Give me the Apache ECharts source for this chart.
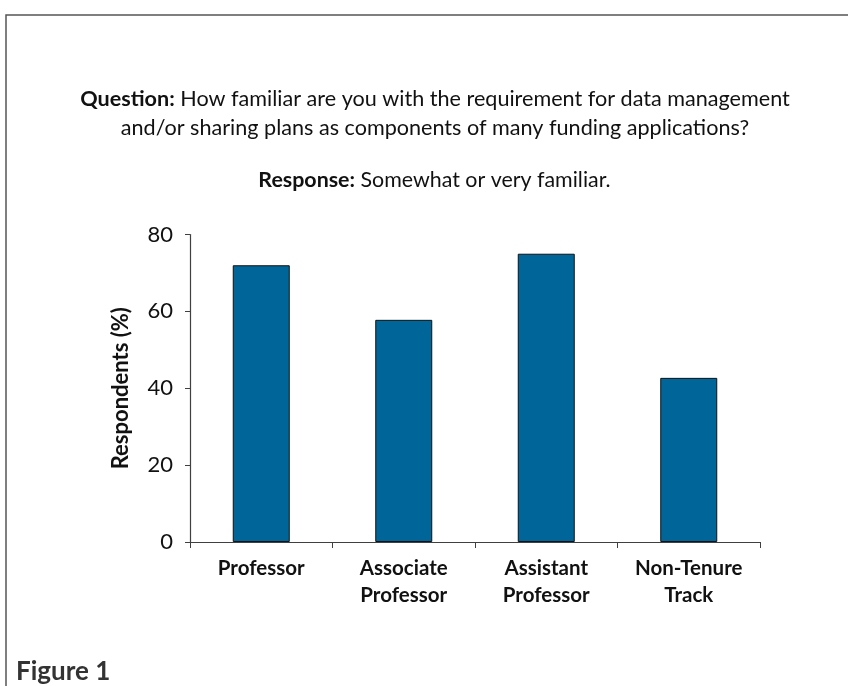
<!DOCTYPE html>
<html>
<head>
<meta charset="utf-8">
<script src="https://cdn.jsdelivr.net/npm/echarts@6/dist/echarts.min.js"></script>
<style>
  html, body { margin: 0; padding: 0; background: #fff; }
  #chart { width: 848px; height: 686px; }
</style>
</head>
<body>
<div id="chart"></div>
<script>
const categories = ['Professor', 'Associate\nProfessor', 'Assistant\nProfessor', 'Non-Tenure\nTrack']
const familiarValues = [72, 57.8, 75, 42.7]
const yTicks = [0, 20, 40, 60, 80]

const font = 'Lato, "Liberation Sans", sans-serif'
const chart = echarts.init(document.getElementById('chart'))

chart.setOption({
    backgroundColor: '#fff',
    animation: false,
    textStyle: { fontFamily: font },
    title: [
        {
            text: '{b|Question:} How familiar are you with the requirement for data management\nand/or sharing plans as components of many funding applications?',
            left: 430,
            top: 80,
            textAlign: 'center',
            textStyle: {
                fontFamily: font,
                fontSize: 21.6,
                fontWeight: 'normal',
                color: '#111',
                lineHeight: 29,
                align: 'center',
                rich: {
                    b: { fontFamily: font, fontSize: 21.6, fontWeight: 'bold', color: '#111' }
                }
            }
        },
        {
            text: '{b|Response:} Somewhat or very familiar.',
            left: 429.5,
            top: 165,
            textAlign: 'center',
            textStyle: {
                fontFamily: font,
                fontSize: 21.4,
                fontWeight: 'normal',
                color: '#111',
                rich: {
                    b: { fontFamily: font, fontSize: 21.4, fontWeight: 'bold', color: '#111' }
                }
            }
        },
        {
            text: 'Figure 1',
            left: 11,
            top: 654,
            textStyle: { fontFamily: font, fontSize: 26, fontWeight: 'bold', color: '#333' }
        }
    ],
    graphic: [
        {
            type: 'polyline',
            shape: { points: [[848, 15], [6, 15], [6, 686]] },
            style: { stroke: '#555', lineWidth: 1.5, fill: null }
        }
    ],
    grid: {
        left: 190,
        right: 88,
        top: 234.5,
        bottom: 144,
        containLabel: false
    },
    xAxis: {
        type: 'category',
        data: categories,
        axisLine: { lineStyle: { color: '#404040', width: 1.2 } },
        axisTick: { show: true, length: 6, alignWithLabel: false, lineStyle: { color: '#404040' } },
        axisLabel: {
            interval: 0,
            margin: 13,
            fontFamily: font,
            fontSize: 20.5,
            fontWeight: 'bold',
            color: '#111',
            lineHeight: 27
        }
    },
    yAxis: {
        type: 'value',
        min: yTicks[0],
        max: yTicks[yTicks.length - 1],
        interval: 20,
        name: 'Respondents (%)',
        nameLocation: 'middle',
        nameGap: 58,
        nameTextStyle: { fontFamily: font, fontSize: 22, fontWeight: 'bold', color: '#111' },
        axisLine: { show: true, lineStyle: { color: '#404040', width: 1.2 } },
        axisTick: { show: true, length: 5, lineStyle: { color: '#404040' } },
        axisLabel: { margin: 17, fontFamily: font, fontSize: 22, color: '#111' },
        splitLine: { show: false }
    },
    series: [
        {
            type: 'bar',
            data: familiarValues,
            barWidth: '40%',
            itemStyle: { color: '#006699', borderColor: '#111', borderWidth: 1 }
        }
    ]
})
</script>
</body>
</html>
